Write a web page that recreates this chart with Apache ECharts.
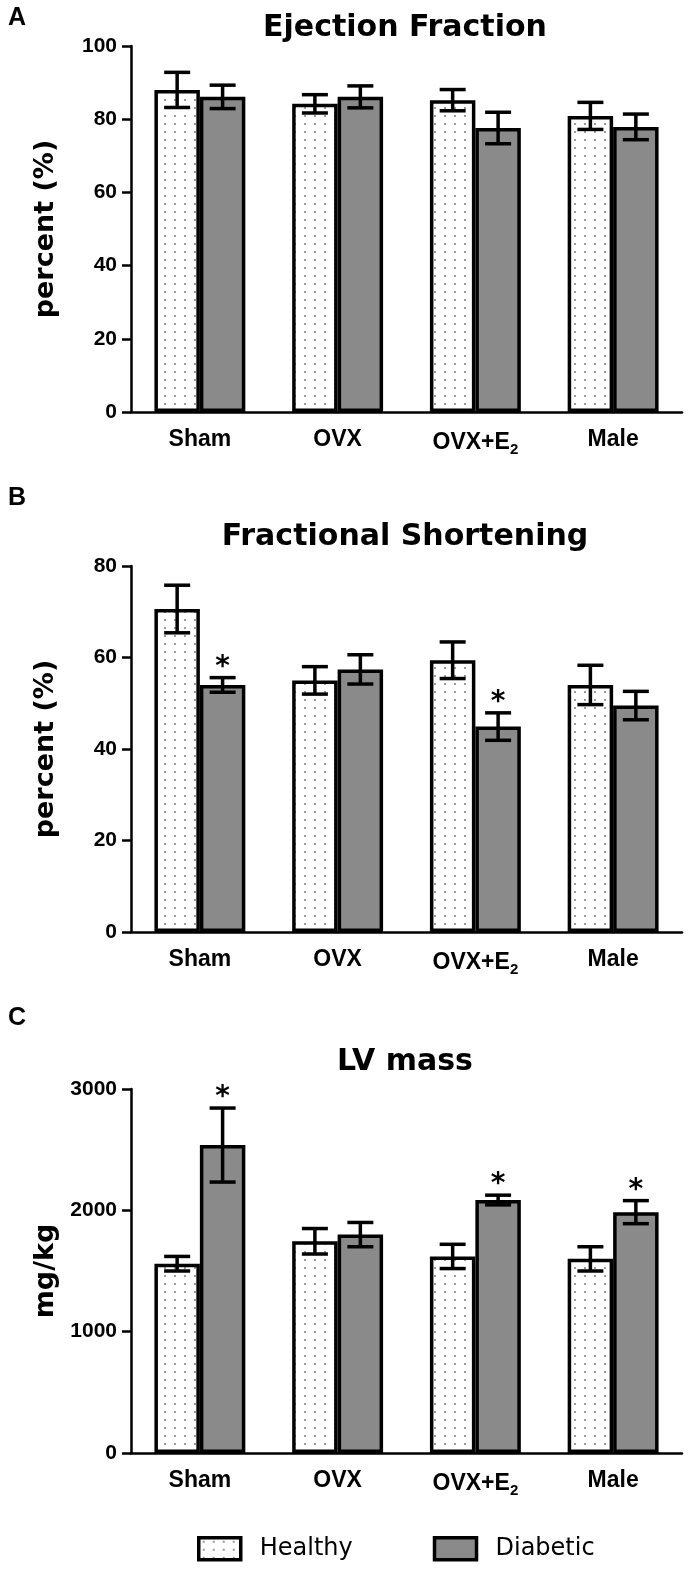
<!DOCTYPE html>
<html><head><meta charset="utf-8">
<script src="https://cdn.jsdelivr.net/npm/echarts@6/dist/echarts.min.js"></script>
<style>html,body{margin:0;padding:0;background:#fff}#c{width:690px;height:1570px}</style>
</head><body><div id="c"></div>
<script>
// ---- data ----
const categories = ['Sham', 'OVX', 'OVX+E2', 'Male'];
const seriesNames = ['Healthy', 'Diabetic'];

const efHealthy = [88.0, 84.2, 85.2, 80.9];
const efHealthyErr = [4.8, 2.5, 2.9, 3.7];
const efDiabetic = [86.1, 86.1, 77.6, 77.9];
const efDiabeticErr = [3.2, 3.0, 4.3, 3.5];

const fsHealthy = [70.6, 55.0, 59.4, 54.0];
const fsHealthyErr = [5.2, 3.0, 4.0, 4.3];
const fsDiabetic = [54.0, 57.4, 44.9, 49.5];
const fsDiabeticErr = [1.6, 3.2, 3.0, 3.1];

const lvHealthy = [1560, 1745, 1620, 1600];
const lvHealthyErr = [60, 105, 100, 100];
const lvDiabetic = [2538, 1800, 2085, 1985];
const lvDiabeticErr = [305, 100, 40, 95];

const efStars = [0, 0, 0, 0];
const fsStars = [1, 0, 1, 0];
const lvStars = [1, 0, 1, 1];

const panelTitles = ['Ejection Fraction', 'Fractional Shortening', 'LV mass'];
const panelLetters = ['A', 'B', 'C'];
const yNames = ['percent (%)', 'percent (%)', 'mg/kg'];
const yMax = [100, 80, 3000];
const yInterval = [20, 20, 1000];

// ---- styles ----
const FONT = 'DejaVu Sans';
const AFONT = 'Liberation Sans';
const GAP = 0.34;
const grids = [
  { left: 131, right: 8, top: 46, height: 366 },
  { left: 131, right: 8, top: 566, height: 366 },
  { left: 131, right: 8, top: 1089, height: 364 }
];

const pc = document.createElement('canvas');
pc.width = 10; pc.height = 8;
const g = pc.getContext('2d');
g.fillStyle = '#ffffff'; g.fillRect(0, 0, 10, 8);
g.fillStyle = '#9c9c9c'; g.fillRect(4, 3, 2, 2);
const dotted = { image: pc, repeat: 'repeat' };
const grey = '#8a8a8a';

function errSeries(gi, vals, errs, side, stars) {
  return {
    type: 'custom', xAxisIndex: gi, yAxisIndex: gi, z: 10, silent: true,
    data: vals.map((v, i) => [i, v - errs[i], v + errs[i], stars ? stars[i] : 0]),
    renderItem(params, api) {
      const i = api.value(0);
      const band = api.size([1, 0])[0];
      const bw = band * (1 - GAP) / 2;
      const top = api.coord([i, api.value(2)]);
      const lo = api.coord([i, api.value(1)]);
      const x = top[0] + side * bw / 2;
      const half = 13;
      const ls = { stroke: '#000', lineWidth: 3.5 };
      const ch = [
        { type: 'line', shape: { x1: x, y1: top[1], x2: x, y2: lo[1] }, style: ls },
        { type: 'line', shape: { x1: x - half, y1: top[1], x2: x + half, y2: top[1] }, style: ls },
        { type: 'line', shape: { x1: x - half, y1: lo[1], x2: x + half, y2: lo[1] }, style: ls }
      ];
      if (api.value(3)) {
        ch.push({ type: 'text', style: { text: '*', x: x, y: top[1] + 4, textAlign: 'center', textVerticalAlign: 'bottom',
          font: 'bold 28px "' + FONT + '"', fill: '#000' } });
      }
      return { type: 'group', children: ch };
    }
  };
}

const panels = [
  [efHealthy, efHealthyErr, efDiabetic, efDiabeticErr, efStars],
  [fsHealthy, fsHealthyErr, fsDiabetic, fsDiabeticErr, fsStars],
  [lvHealthy, lvHealthyErr, lvDiabetic, lvDiabeticErr, lvStars]
];

const xAxis = [], yAxis = [], series = [];
panels.forEach((p, gi) => {
  xAxis.push({
    type: 'category', gridIndex: gi, data: categories,
    axisLine: { lineStyle: { color: '#000', width: 2.5 } },
    axisTick: { show: false },
    axisLabel: {
      interval: 0, color: '#000', fontFamily: AFONT, fontWeight: 'bold', fontSize: 23, margin: 16,
      formatter: v => v === 'OVX+E2' ? 'OVX+E{sub|2}' : v,
      rich: { sub: { fontFamily: AFONT, fontWeight: 'bold', fontSize: 15, color: '#000', padding: [14, 0, 0, 0] } }
    }
  });
  yAxis.push({
    type: 'value', gridIndex: gi, min: 0, max: yMax[gi], interval: yInterval[gi],
    name: yNames[gi], nameLocation: 'middle', nameGap: 72,
    nameTextStyle: { color: '#000', fontFamily: FONT, fontWeight: 'bold', fontSize: 27 },
    axisLine: { show: true, lineStyle: { color: '#000', width: 2.5 } },
    axisTick: { show: true, length: 9, lineStyle: { color: '#000', width: 2.5 } },
    splitLine: { show: false },
    axisLabel: { color: '#000', fontFamily: AFONT, fontWeight: 'bold', fontSize: 21, margin: 14,
      formatter: v => String(v) }
  });
  series.push({
    type: 'bar', name: seriesNames[0], xAxisIndex: gi, yAxisIndex: gi, data: p[0],
    barGap: '0%', barCategoryGap: (GAP * 100) + '%',
    itemStyle: { color: dotted, borderColor: '#000', borderWidth: 3.5 }
  });
  series.push({
    type: 'bar', name: seriesNames[1], xAxisIndex: gi, yAxisIndex: gi, data: p[2],
    barGap: '0%', barCategoryGap: (GAP * 100) + '%',
    itemStyle: { color: grey, borderColor: '#000', borderWidth: 3.5 }
  });
  series.push(errSeries(gi, p[0], p[1], -1, null));
  series.push(errSeries(gi, p[2], p[3], 1, p[4]));
});

const titleY = [28, 537, 1062];
const letterY = [18, 498, 1018];
const graphic = [];
panels.forEach((p, gi) => {
  graphic.push({ type: 'text', x: 405, y: titleY[gi], style: { text: panelTitles[gi], textAlign: 'center', textVerticalAlign: 'middle',
    font: 'bold 30px "' + FONT + '"', fill: '#000' } });
  graphic.push({ type: 'text', x: 8, y: letterY[gi], style: { text: panelLetters[gi], textAlign: 'left', textVerticalAlign: 'middle',
    font: 'bold 25px "' + AFONT + '"', fill: '#000' } });
});

const chart = echarts.init(document.getElementById('c'), null, { renderer: 'canvas' });
chart.setOption({
  animation: false,
  backgroundColor: '#fff',
  grid: grids,
  xAxis, yAxis, series, graphic,
  legend: {
    data: seriesNames, left: 192, top: 1531, itemWidth: 42, itemHeight: 22, itemGap: 80, icon: 'rect',
    itemStyle: { borderColor: '#000', borderWidth: 3.5 },
    textStyle: { color: '#000', fontFamily: FONT, fontSize: 24, padding: [0, 0, 0, 14] }
  }
});
</script></body></html>
